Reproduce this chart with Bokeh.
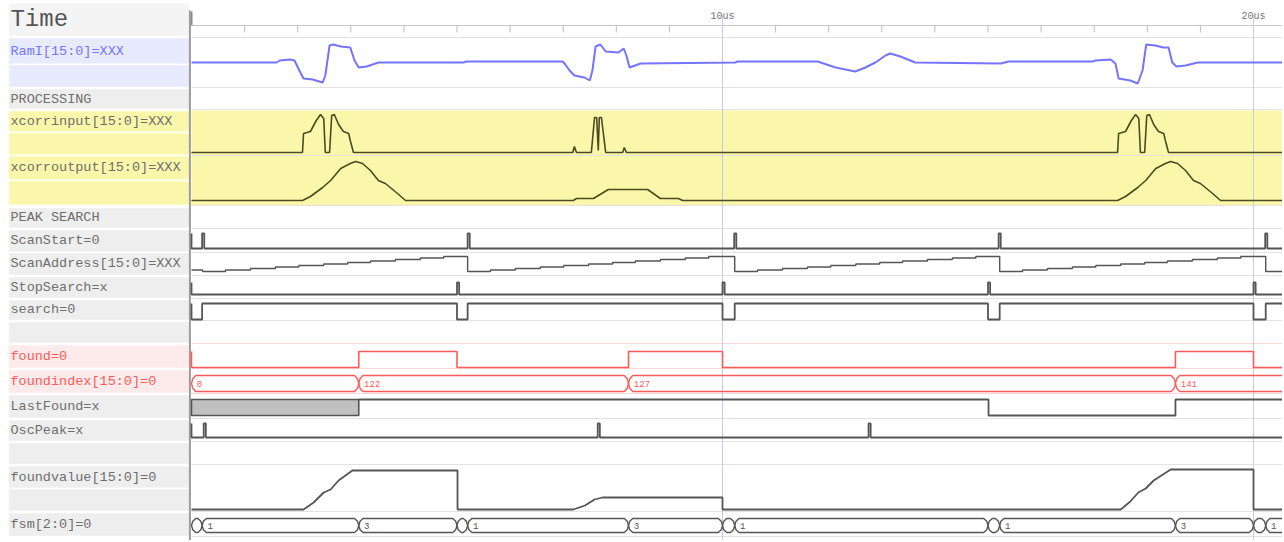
import numpy as np
from bokeh.plotting import figure
from bokeh.models import Range1d
from bokeh.embed import file_html
from bokeh.resources import INLINE
from bokeh.core.properties import value

# ---------------- data (time in ruler ticks, values in signal units) ----------------
ram_t = [0.00, 1.60, 1.66, 1.86, 1.94, 2.05, 2.11, 2.28, 2.47, 2.52, 2.60, 2.67, 2.81, 2.99, 3.07, 3.15, 3.30, 3.41, 3.52,
         5.12, 5.18, 6.99, 7.04, 7.12, 7.21, 7.40, 7.50, 7.55, 7.61, 7.70, 7.80, 8.04, 8.14, 8.19, 8.25, 8.46,
         10.24, 10.28, 11.79, 12.13, 12.50, 12.69, 12.88, 13.07, 13.16, 13.35, 13.63, 15.24, 15.39, 16.97, 17.02,
         17.31, 17.40, 17.46, 17.68, 17.82, 17.91, 17.98, 18.15, 18.30, 18.40, 18.47, 18.55, 18.72, 18.87, 18.95, 20.55]
ram_v = [0, 0, 2, 3, 2, -10, -16, -17, -20, -13, 17, 18, 16, 15, 2, -5, -4, -2, 0,
         0, 1, 1, -2, -8, -13, -15, -18, -8, 16, 18, 11, 10, 14, 7, -5, -1,
         0, 1, 1, -5, -9, -5, 0, 7, 9, 6, 0, -1, 1, 1, 2,
         3, -1, -16, -18, -21, -8, 18, 17, 15, 15, 0, -4, -3, -1, 0, 0]

xin_t = [0, 2.09, 2.11, 2.24, 2.35, 2.43, 2.49, 2.52, 2.60, 2.64, 2.69, 2.77, 2.86, 2.96, 2.99, 3.05,
         7.18, 7.21, 7.25, 7.53, 7.59, 7.63, 7.66, 7.68, 7.72, 7.80, 8.12, 8.15, 8.19,
         17.44, 17.46, 17.59, 17.70, 17.78, 17.84, 17.87, 17.95, 17.99, 18.04, 18.12, 18.21, 18.31, 18.34, 18.40, 20.55]
xin_v = [0, 0, 19, 21, 32, 38, 34, 0, 0, 37, 38, 28, 21, 19, 12, 0,
         0, 6, 0, 0, 35, 35, 2, 35, 35, 0, 0, 5, 0,
         0, 19, 21, 32, 38, 34, 0, 0, 37, 38, 28, 21, 19, 12, 0, 0]

xout_t = [0, 2.09, 2.24, 2.47, 2.62, 2.81, 2.99, 3.09, 3.22, 3.37, 3.52, 3.65, 3.88, 4.03,
          7.19, 7.25, 7.57, 7.85, 8.59, 8.83, 9.17, 9.25,
          17.44, 17.59, 17.82, 17.97, 18.16, 18.34, 18.44, 18.57, 18.72, 18.87, 19.00, 19.23, 19.38, 20.55]
xout_v = [0, 0, 4, 13, 20, 32, 37, 39, 37, 30, 20, 17, 7, 0,
          0, 2, 2, 11, 11, 2, 2, 0,
          0, 4, 13, 20, 32, 37, 39, 37, 30, 20, 17, 7, 0, 0]

scanstart_t = [0, 0, 0.20, 0.24, 5.20, 5.24, 10.22, 10.26, 15.20, 15.24, 20.22, 20.26, 20.6]
scanstart_v = [1, 0, 1, 0, 1, 0, 1, 0, 1, 0, 1, 0, 0]

scanaddr_t = [0, 0.21, 0.64, 1.11, 1.58, 2.02, 2.49, 2.94, 3.37, 3.84, 4.31, 4.75,
              5.20, 5.63, 6.10, 6.57, 7.01, 7.48, 7.93, 8.36, 8.83, 9.30, 9.74,
              10.23, 10.66, 11.13, 11.60, 12.04, 12.51, 12.96, 13.39, 13.86, 14.33, 14.77,
              15.22, 15.65, 16.12, 16.59, 17.03, 17.50, 17.95, 18.38, 18.85, 19.32, 19.76,
              20.23, 20.6]
scanaddr_v = [1, 0, 1, 2, 3, 4, 5, 6, 7, 8, 9, 10,
              0, 1, 2, 3, 4, 5, 6, 7, 8, 9, 10,
              0, 1, 2, 3, 4, 5, 6, 7, 8, 9, 10,
              0, 1, 2, 3, 4, 5, 6, 7, 8, 9, 10,
              0, 0]

stopsearch_t = [0, 0, 5.00, 5.04, 10.00, 10.04, 15.00, 15.04, 20.00, 20.04, 20.6]
stopsearch_v = [1, 0, 1, 0, 1, 0, 1, 0, 1, 0, 0]

search_t = [0, 0, 0.20, 5.00, 5.20, 10.00, 10.23, 15.00, 15.22, 20.00, 20.23, 20.6]
search_v = [1, 0, 1, 0, 1, 0, 1, 0, 1, 0, 1, 1]

found_t = [0, 0, 3.15, 5.00, 8.23, 10.00, 18.53, 20.00, 20.6]
found_v = [1, 0, 1, 0, 1, 0, 1, 0, 0]

foundindex_t = [0, 3.15, 8.23, 18.53]
foundindex_lbl = ["0", "122", "127", "141"]

lastfound_x_t = [0, 3.15]          # unknown ('x') interval
lastfound_t = [3.15, 15.01, 18.53, 20.6]
lastfound_v = [1, 0, 1, 1]

oscpeak_t = [0, 0, 0.23, 0.27, 7.65, 7.69, 12.75, 12.79, 20.6]
oscpeak_v = [1, 0, 1, 0, 1, 0, 1, 0, 0]

foundvalue_t = [0, 2.11, 2.30, 2.49, 2.62, 2.77, 3.03, 5.01, 5.01, 7.19, 7.41, 7.59, 7.74, 10.0, 10.0,
                17.50, 17.68, 17.83, 17.97, 18.12, 18.44, 20.0, 20.0, 20.55]
foundvalue_v = [0, 0, 7, 17, 20, 29, 39, 39, 0, 0, 4, 10, 12, 12, 0,
                0, 8, 17, 21, 29, 40, 40, 0, 0]

fsm_t = [0, 0.20, 3.15, 5.00, 5.20, 8.23, 10.00, 10.23, 15.00, 15.22, 18.53, 20.00, 20.23]
fsm_lbl = ["0", "1", "3", "2", "1", "3", "2", "1", "2", "1", "3", "2", "1"]

ruler_ticks = list(range(1, 21))
cursor_t = [10, 20]
cursor_lbl = ["10us", "20us"]

signal_names = ["RamI[15:0]=XXX", "PROCESSING", "xcorrinput[15:0]=XXX", "xcorroutput[15:0]=XXX", "PEAK SEARCH",
                "ScanStart=0", "ScanAddress[15:0]=XXX", "StopSearch=x", "search=0", "found=0",
                "foundindex[15:0]=0", "LastFound=x", "OscPeak=x", "foundvalue[15:0]=0", "fsm[2:0]=0"]

# ---------------- layout (row geometry in frame units) ----------------
FONT = value("Liberation Mono")
FT, FB = 0, 540
T_LEFT, T_RIGHT = -3.597, 20.546
T_END = 21.0
PANEL_LEFT = -3.45
LABEL_X = -3.41
DIV_X = -0.03

GRAY_BG = "#eeeeee"
BLUE_BG = "#e8ebfd"
YEL = "#faf7aa"
PINK_BG = "#fdeaea"
BLUE = "#7474ff"
OLIVE = "#4b4b22"
DARK = "#555555"
RED = "#ff5a5a"
LBL = "#6e6e6e"

label_y = [51, 99, 121, 167, 217, 240, 263, 287, 309, 356, 381, 406, 430, 477, 524]
label_col = [BLUE, LBL, LBL, LBL, LBL, LBL, LBL, LBL, LBL, RED, RED, LBL, LBL, LBL, LBL]

bg_rows = [(2, 36, "#f4f4f4"), (37, 64, BLUE_BG), (64, 87, BLUE_BG), (88, 109, GRAY_BG),
           (110, 132, YEL), (132, 155, YEL), (155, 180, YEL), (180, 205, YEL),
           (207, 228, GRAY_BG), (229, 252, GRAY_BG), (252, 275, GRAY_BG), (276, 298, GRAY_BG),
           (299, 320, GRAY_BG), (321, 343, GRAY_BG), (344, 368, PINK_BG), (369, 393, PINK_BG),
           (394, 418, GRAY_BG), (419, 441, GRAY_BG), (442, 464, GRAY_BG), (465, 488, GRAY_BG),
           (488, 511, GRAY_BG), (512, 536, GRAY_BG)]

# baseline (frame units) and frame-units-per-value for each signal row
row_maps = {"ram": (62, 1.0), "xin": (152, 1.0), "xout": (200, 1.0), "sstart": (248, 15.0),
            "saddr": (271, 1.5), "stop": (294, 12.0), "search": (319, 16.0), "found": (367, 16.0),
            "lastf": (415, 16.0), "osc": (437, 14.0), "fval": (509, 1.0)}

p = figure(width=1282, height=540, x_range=Range1d(T_LEFT, T_RIGHT), y_range=Range1d(FB, FT),
           x_axis_type=None, y_axis_type=None, toolbar_location=None, output_backend="svg",
           min_border=0)
p.outline_line_color = None
p.background_fill_color = "white"
p.border_fill_color = "white"
p.extra_y_ranges = {n: Range1d(start=(b - FB) / k, end=(b - FT) / k) for n, (b, k) in row_maps.items()}

# label panel backgrounds
p.quad(left=PANEL_LEFT, right=DIV_X, top=[r[0] for r in bg_rows], bottom=[r[1] for r in bg_rows],
       fill_color=[r[2] for r in bg_rows], line_color="white", line_width=1.5)

# waveform area backgrounds
p.quad(left=0, right=T_END, top=110, bottom=205, fill_color=YEL, line_color=None)
grid_y = [37, 87, 109, 155, 205, 228, 252, 275, 298, 320, 418, 441, 464, 511, 536]
p.segment(x0=0, x1=T_END, y0=grid_y, y1=grid_y, line_color="#e2e2e2", line_width=1)
pink_y = [343, 368, 393]
p.segment(x0=0, x1=T_END, y0=pink_y, y1=pink_y, line_color="#fad6d6", line_width=1)

# ruler
p.segment(x0=0, x1=T_END, y0=25, y1=25, line_color="#c8c8c8", line_width=1)
p.segment(x0=ruler_ticks, x1=ruler_ticks, y0=25, y1=32, line_color="#bdbdbd", line_width=1)
p.segment(x0=0, x1=0, y0=11, y1=25, line_color="#8a8a8a", line_width=2)
p.text(x=cursor_t, y=16, text=cursor_lbl, text_font=FONT, text_font_size="10px",
       text_color="#777777", text_align="center", text_baseline="middle")

# cursors and divider
p.segment(x0=cursor_t[0], x1=cursor_t[0], y0=14, y1=FB, line_color="#c6c6f6", line_width=1)
p.segment(x0=cursor_t[1], x1=cursor_t[1], y0=14, y1=FB, line_color="#cdcdcd", line_width=1)
p.segment(x0=DIV_X, x1=DIV_X, y0=10, y1=FB, line_color="#9c9c9c", line_width=2)

# analog traces
p.line(ram_t, ram_v, y_range_name="ram", line_color=BLUE, line_width=2)
p.line(xin_t, xin_v, y_range_name="xin", line_color=OLIVE, line_width=1.6)
p.line(xout_t, xout_v, y_range_name="xout", line_color=OLIVE, line_width=1.6)
p.line(foundvalue_t, foundvalue_v, y_range_name="fval", line_color=DARK, line_width=1.8)

# digital traces
p.step(scanstart_t, scanstart_v, mode="after", y_range_name="sstart", line_color=DARK, line_width=1.8)
p.step(scanaddr_t, scanaddr_v, mode="after", y_range_name="saddr", line_color=DARK, line_width=1.4)
p.step(stopsearch_t, stopsearch_v, mode="after", y_range_name="stop", line_color=DARK, line_width=1.8)
p.step(search_t, search_v, mode="after", y_range_name="search", line_color=DARK, line_width=1.8)
p.step(found_t, found_v, mode="after", y_range_name="found", line_color=RED, line_width=1.6)
p.quad(left=lastfound_x_t[0], right=lastfound_x_t[1], bottom=0, top=1, y_range_name="lastf",
       fill_color="#c0c0c0", line_color=DARK, line_width=1.6)
p.step(lastfound_t, lastfound_v, mode="after", y_range_name="lastf", line_color=DARK, line_width=1.8)
p.step(oscpeak_t, oscpeak_v, mode="after", y_range_name="osc", line_color=DARK, line_width=1.8)


# bus traces
def bus(ts, labels, center, half, color, lw):
    d = 0.08
    ends = list(ts[1:]) + [T_END]
    xs, ys, lx, ly, lt = [], [], [], [], []
    for t0, t1, lab in zip(ts, ends, labels):
        xs.append([t0 + d, t1 - d, t1 - 0.3 * d, t1, t1 - 0.3 * d, t1 - d, t0 + d, t0 + 0.3 * d, t0, t0 + 0.3 * d, t0 + d])
        ys.append([center - half, center - half, center - 0.6 * half, center, center + 0.6 * half, center + half,
                   center + half, center + 0.6 * half, center, center - 0.6 * half, center - half])
        if t1 - t0 > 0.5:
            lx.append(t0 + 0.1)
            ly.append(center)
            lt.append(lab)
    p.patches(xs, ys, fill_color=None, line_color=color, line_width=lw)
    p.text(x=lx, y=ly, text=lt, text_font=FONT, text_font_size="9px", text_color=color,
           text_baseline="middle", text_align="left")


bus(foundindex_t, foundindex_lbl, 383, 8, RED, 1.4)
bus(fsm_t, fsm_lbl, 525, 7, DARK, 1.4)

# texts of the label panel
p.text(x=LABEL_X, y=19, text=["Time"], text_font=FONT, text_font_size="24px", text_color="#555555",
       text_baseline="middle")
p.text(x=LABEL_X, y=label_y, text=signal_names, text_font=FONT, text_font_size="13.5px",
       text_color=label_col, text_baseline="middle")

open("out.html", "w").write(file_html(p, INLINE, "waveform"))
